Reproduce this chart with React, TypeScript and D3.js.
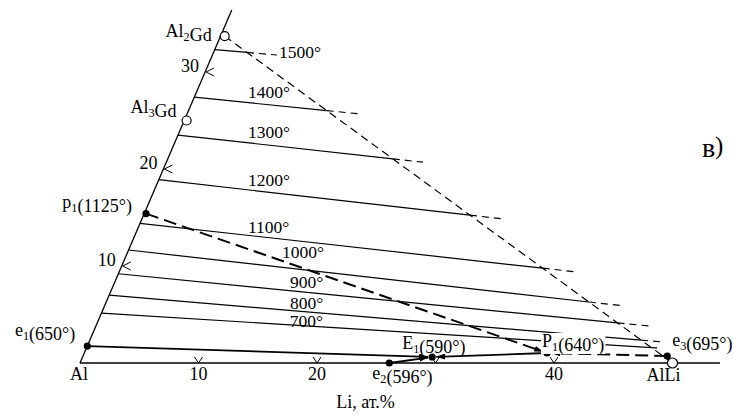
import React, { useEffect, useRef } from 'react';
import * as d3 from 'd3';

// ---- data (composition: Li at.%, Gd at.%) ----
const compoundNames = ['Al_2Gd', 'Al_3Gd', 'AlLi'];
const compoundLi = [0.35, 0.2, 50];
const compoundGd = [33.7, 25.0, 0];

const isoTemps = [1500, 1400, 1300, 1200, 1100, 1000, 900, 800, 700];
const isoStartGd = [32.3, 27.4, 23.5, 18.9, 14.4, 11.65, 9.2, 7.0, 5.15];
const isoEndLi = [5.45, 14.4, 21.65, 30.5, 38.5, 43.7, 46.8, 48.6, 48.15];
const isoEndGd = [31.75, 25.7, 20.7, 14.85, 9.4, 5.9, 3.8, 2.15, 1.55];
const isoLabelLi = [5.73, 4.56, 6.01, 7.75, 9.46, 13.24, 15.0, 15.76, 16.38];
const isoLabelGd = [31.44, 27.32, 23.2, 18.25, 13.4, 10.82, 7.73, 5.57, 3.75];

const pointNames = ['e_1', 'p_1', 'e_2', 'E_1', 'P_1', 'e_3'];
const pointTemps = [650, 1125, 596, 590, 640, 695];
const pointLi = [0, 0.15, 26.1, 29.5, 39.05, 49.3];
const pointGd = [1.75, 15.4, 0, 0.62, 1.03, 0.72];

const curveFrom = ['p_1', 'e_3', 'e_1', 'e_2', 'P_1'];
const curveTo = ['P_1', 'P_1', 'E_1', 'E_1', 'E_1'];
const curveKind = ['peritectic', 'peritectic', 'eutectic', 'eutectic', 'eutectic'];

const liTicks = [10, 20, 30, 40];
const liTickLabels = ['10', '20', '', '40'];
const gdTicks = [10, 20, 30];
const gdTickLabels = ['10', '20', '30'];

const xTitle = 'Li, ат.%';
const panelLetter = 'в';

// ---- layout (pixel offsets for labels) ----
const compoundLabelOffset: [number, number, string][] = [
  [-13, 1, 'end'],
  [-10, -8, 'end'],
  [-9, 18, 'middle'],
];
const pointLabelOffset: [number, number, string, boolean][] = [
  [-12, -10, 'end', false],
  [-14, -6, 'end', false],
  [-17, 16, 'start', false],
  [-30, -8, 'start', false],
  [-5, -6, 'start', true],
  [5, -10, 'start', false],
];

const FONT = '"Liberation Serif", "Times New Roman", serif';
const FS = 18;

function addText(g: any, x: number, y: number, s: string, anchor: string, fs = FS) {
  const t = g
    .append('text')
    .attr('x', x)
    .attr('y', y)
    .attr('text-anchor', anchor)
    .attr('font-family', FONT)
    .attr('font-size', fs)
    .attr('fill', '#000');
  const parts = s.split(/_(.)/);
  parts.forEach((p, i) => {
    if (!p) return;
    if (i % 2 === 1) {
      t.append('tspan').attr('font-size', fs * 0.68).attr('dy', 4).text(p);
      t.append('tspan').attr('dy', -4).text('');
    } else {
      t.append('tspan').text(p);
    }
  });
  return t;
}

export default function App() {
  const ref = useRef<SVGSVGElement>(null);
  useEffect(() => {
    const svg = d3.select(ref.current);
    svg.selectAll('*').remove();
    const xLi = d3.scaleLinear().domain([0, 50]).range([80, 672.5]);
    const yGd = d3.scaleLinear().domain([0, 30]).range([363, 72]);
    const skew = d3.scaleLinear().domain([0, 30]).range([0, 125.1]);
    const P = (li: number, gd: number): [number, number] => [xLi(li) + skew(gd), yGd(gd)];

    const defs = svg.append('defs');
    defs
      .append('marker')
      .attr('id', 'arr')
      .attr('viewBox', '0 0 10 10')
      .attr('refX', 10)
      .attr('refY', 5)
      .attr('markerWidth', 9)
      .attr('markerHeight', 6)
      .attr('markerUnits', 'userSpaceOnUse')
      .attr('preserveAspectRatio', 'none')
      .attr('orient', 'auto')
      .append('path')
      .attr('d', 'M0,0L10,5L0,10z')
      .attr('fill', '#000');

    const g = svg.append('g');
    const line = d3.line<[number, number]>();

    // axes
    g.append('path')
      .attr('d', line([P(0, 0), P(54, 0)]))
      .attr('stroke', '#000')
      .attr('stroke-width', 1.3)
      .attr('fill', 'none');
    g.append('path')
      .attr('d', line([P(0, 0), P(0, 36.4)]))
      .attr('stroke', '#000')
      .attr('stroke-width', 1.3)
      .attr('fill', 'none');

    // ticks
    liTicks.forEach((t, i) => {
      const [x, y] = P(t, 0);
      g.append('path')
        .attr('d', `M${x - 4},${y - 6}L${x},${y}L${x + 4},${y - 6}`)
        .attr('stroke', '#000')
        .attr('stroke-width', 1)
        .attr('fill', 'none');
      if (liTickLabels[i]) addText(g, x, y + 17, liTickLabels[i], 'middle');
    });
    gdTicks.forEach((t, i) => {
      const [x, y] = P(0, t);
      g.append('path')
        .attr('d', `M${x + 9},${y - 4}L${x + 1},${y}L${x + 9},${y + 4}`)
        .attr('stroke', '#000')
        .attr('stroke-width', 1)
        .attr('fill', 'none');
      addText(g, x - 6, y, gdTickLabels[i], 'end');
    });
    {
      const [x, y] = P(0, 0);
      addText(g, x - 1, y + 17, 'Al', 'middle');
      const [tx, ty] = P(24.1, 0);
      addText(g, tx, ty + 45, xTitle, 'middle');
    }

    // tie line Al2Gd - AlLi
    const A: [number, number] = [compoundLi[0], compoundGd[0]];
    const B: [number, number] = [compoundLi[2], compoundGd[2]];
    g.append('path')
      .attr('d', line([P(A[0], A[1]), P(B[0], B[1])]))
      .attr('stroke', '#000')
      .attr('stroke-width', 1.2)
      .attr('stroke-dasharray', '8,5')
      .attr('fill', 'none');

    // isotherms
    isoTemps.forEach((T, i) => {
      const S: [number, number] = [0, isoStartGd[i]];
      const E: [number, number] = [isoEndLi[i], isoEndGd[i]];
      const r = [E[0] - S[0], E[1] - S[1]];
      const s = [B[0] - A[0], B[1] - A[1]];
      const den = r[0] * s[1] - r[1] * s[0];
      let t = ((A[0] - S[0]) * s[1] - (A[1] - S[1]) * s[0]) / den;
      t = Math.max(0, Math.min(1, t));
      const C: [number, number] = [S[0] + t * r[0], S[1] + t * r[1]];
      g.append('path')
        .attr('d', line([P(S[0], S[1]), P(C[0], C[1])]))
        .attr('stroke', '#000')
        .attr('stroke-width', 1.2)
        .attr('fill', 'none');
      if (t < 1) {
        g.append('path')
          .attr('d', line([P(C[0], C[1]), P(E[0], E[1])]))
          .attr('stroke', '#000')
          .attr('stroke-width', 1.2)
          .attr('stroke-dasharray', '7,5')
          .attr('fill', 'none');
      }
      const [lx, ly] = P(isoLabelLi[i], isoLabelGd[i]);
      addText(g, lx, ly, `${T}°`, 'start', 17.5);
    });

    // monovariant curves
    const idx = (n: string) => pointNames.indexOf(n);
    curveFrom.forEach((f, i) => {
      const a = idx(f);
      const b = idx(curveTo[i]);
      const p0 = P(pointLi[a], pointGd[a]);
      const p1 = P(pointLi[b], pointGd[b]);
      const dx = p1[0] - p0[0];
      const dy = p1[1] - p0[1];
      const L = Math.hypot(dx, dy);
      const cut = 4;
      const pe: [number, number] = [p1[0] - (dx / L) * cut, p1[1] - (dy / L) * cut];
      const path = g
        .append('path')
        .attr('d', line([p0, pe]))
        .attr('stroke', '#000')
        .attr('fill', 'none')
        .attr('marker-end', 'url(#arr)');
      if (curveKind[i] === 'peritectic') {
        path.attr('stroke-width', 2).attr('stroke-dasharray', '13,6');
      } else {
        path.attr('stroke-width', 1.8);
      }
    });

    // invariant points
    pointNames.forEach((n, i) => {
      const [x, y] = P(pointLi[i], pointGd[i]);
      g.append('circle').attr('cx', x).attr('cy', y).attr('r', 3.6).attr('fill', '#000');
    });
    pointNames.forEach((n, i) => {
      const [x, y] = P(pointLi[i], pointGd[i]);
      const [dx, dy, anchor, bg] = pointLabelOffset[i];
      const t = addText(g, x + dx, y + dy, `${n}(${pointTemps[i]}°)`, anchor);
      if (bg) {
        const bb = (t.node() as SVGTextElement).getBBox();
        g.insert('rect', () => t.node())
          .attr('x', bb.x - 1)
          .attr('y', bb.y + 2)
          .attr('width', bb.width + 2)
          .attr('height', bb.height - 4)
          .attr('fill', '#fff');
      }
    });

    // compounds
    compoundNames.forEach((n, i) => {
      const [x, y] = P(compoundLi[i], compoundGd[i]);
      g.append('circle')
        .attr('cx', x)
        .attr('cy', y)
        .attr('r', i === 2 ? 5 : 4.5)
        .attr('fill', '#fff')
        .attr('stroke', '#000')
        .attr('stroke-width', 1.2);
      const [dx, dy, anchor] = compoundLabelOffset[i];
      addText(g, x + dx, y + dy, n, anchor);
    });

    // panel letter
    g.append('text')
      .attr('x', 702)
      .attr('y', 157)
      .attr('font-family', FONT)
      .attr('font-size', 28)
      .text(panelLetter);
    g.append('text')
      .attr('x', 715)
      .attr('y', 154)
      .attr('font-family', FONT)
      .attr('font-size', 25)
      .text(')');
  }, []);
  return (
    <svg
      ref={ref}
      width={733}
      height={419}
      style={{ position: 'absolute', left: 0, top: 0, background: '#fff' }}
    />
  );
}
